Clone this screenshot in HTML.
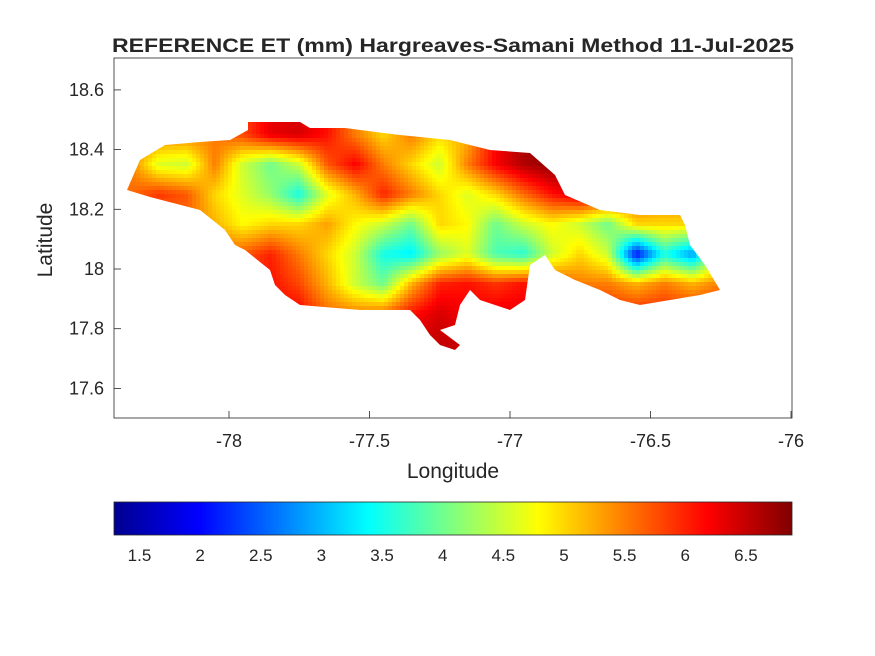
<!DOCTYPE html>
<html><head><meta charset="utf-8"><style>
html,body{margin:0;padding:0;background:#fff;width:875px;height:656px;overflow:hidden}
text{font-family:"Liberation Sans",Arial,sans-serif;fill:#262626}
</style></head><body>
<svg id="svg" width="875" height="656" xmlns="http://www.w3.org/2000/svg">
<defs>
<clipPath id="island"><path id="islandPath" d="M127,190 L140,160 L165,145 L200,142 L230,140 L248,130 L248,122 L300,122 L310,128 L345,128 L400,135 L450,140 L490,150 L530,153 L555,175 L565,195 L600,210 L640,215 L680,215 L685,225 L690,245 L705,265 L720,290 L700,295 L670,300 L640,305 L620,300 L600,290 L575,280 L555,270 L545,255 L530,265 L525,300 L510,310 L480,300 L470,290 L460,305 L455,325 L440,330 L460,345 L455,350 L440,345 L430,335 L420,320 L410,310 L360,310 L300,305 L285,295 L275,285 L270,270 L245,250 L235,245 L225,230 L200,210 L150,197 Z"/></clipPath>
<linearGradient id="jet" x1="0" x2="1" y1="0" y2="0">
<stop offset="0" stop-color="#00008f"/><stop offset="0.125" stop-color="#0000ff"/><stop offset="0.375" stop-color="#00ffff"/><stop offset="0.625" stop-color="#ffff00"/><stop offset="0.875" stop-color="#ff0000"/><stop offset="1" stop-color="#800000"/>
</linearGradient>
</defs>
<rect x="114" y="58" width="678" height="360" fill="#fff" stroke="#262626" stroke-width="0.8"/>
<g clip-path="url(#island)"><g id="cells" shape-rendering="crispEdges"></g></g>
<g id="axes"></g>
<text x="453" y="52" font-size="19" font-weight="bold" text-anchor="middle" textLength="682" lengthAdjust="spacingAndGlyphs">REFERENCE ET (mm) Hargreaves-Samani Method  11-Jul-2025</text>
<text x="453" y="478" font-size="21" text-anchor="middle">Longitude</text>
<text x="52" y="240" font-size="21" text-anchor="middle" transform="rotate(-90 52 240)">Latitude</text>
<rect x="114" y="502" width="678" height="33" fill="url(#jet)" stroke="#262626" stroke-width="0.8"/>
</svg>
<script>
const lons=[-78.35,-78.25,-78.15,-78.05,-77.95,-77.85,-77.75,-77.65,-77.55,-77.45,-77.35,-77.25,-77.15,-77.05,-76.95,-76.85,-76.75,-76.65,-76.55,-76.45,-76.35,-76.25];
const lats=[18.45,18.35,18.25,18.15,18.05,17.95,17.85,17.75];
const etValues=[
[5.5,5.5,5.5,5.5,5.8,6.3,6.4,6.1,5.5,5.0,5.5,5.0,5.2,6.2,6.7,6.8,6.7,6.5,6.3,6.0,6.0,6.0],
[5.5,4.6,4.5,5.5,4.5,4.0,4.5,5.7,6.2,5.5,5.0,4.5,5.5,6.2,6.6,6.8,6.7,6.5,6.2,6.0,6.0,6.0],
[5.6,5.9,5.7,5.0,4.6,4.2,3.5,4.6,5.2,6.0,5.5,5.0,4.6,5.0,5.6,6.1,6.4,6.2,5.8,5.5,5.5,5.5],
[5.5,5.5,5.6,5.2,4.8,5.0,5.0,5.3,4.8,4.5,4.0,5.0,4.8,4.0,4.5,4.8,4.5,4.0,5.0,5.0,5.0,5.5],
[5.5,5.5,5.5,5.6,5.7,6.0,5.5,5.0,4.5,3.5,3.3,4.2,4.6,3.8,3.6,4.5,5.0,4.5,2.0,3.5,2.8,4.5],
[6.0,6.0,6.0,6.0,6.0,6.1,5.8,5.2,4.5,4.0,5.2,6.0,6.1,5.9,6.1,5.8,5.5,5.5,5.2,5.5,5.2,5.5],
[6.0,6.0,6.0,6.0,6.0,6.2,6.2,5.6,5.5,5.6,6.1,6.4,6.2,6.3,6.3,6.0,6.0,6.0,6.0,6.0,6.0,6.0],
[6.5,6.5,6.5,6.5,6.5,6.5,6.5,6.5,6.5,6.5,6.5,6.5,6.5,6.5,6.5,6.5,6.5,6.5,6.5,6.5,6.5,6.5]];
const xTicks=[-78,-77.5,-77,-76.5,-76];
const yTicks=[17.6,17.8,18,18.2,18.4,18.6];
const cTicks=[1.5,2,2.5,3,3.5,4,4.5,5,5.5,6,6.5];
const cMin=1.29,cMax=6.88;
const NS='http://www.w3.org/2000/svg';
const X=lon=>229+(lon+78)*281;
const Y=lat=>269-(lat-18)*298.5;
const C=v=>114+(v-cMin)/(cMax-cMin)*678;
function jet(v){let t=(v-cMin)/(cMax-cMin);t=Math.max(0,Math.min(1,t));
 const f=x=>Math.max(0,Math.min(1,x));
 const r=f(Math.min(4*t-1.5,-4*t+4.5)),g=f(Math.min(4*t-0.5,-4*t+3.5)),b=f(Math.min(4*t+0.5,-4*t+2.5));
 return `rgb(${Math.round(r*255)},${Math.round(g*255)},${Math.round(b*255)})`;}
function interp(lo,la){
 let fj=(lo-lons[0])/(lons[1]-lons[0]);let fi=(lats[0]-la)/(lats[0]-lats[1]);
 fj=Math.max(0,Math.min(lons.length-1,fj));fi=Math.max(0,Math.min(lats.length-1,fi));
 const j0=Math.min(Math.floor(fj),lons.length-2),i0=Math.min(Math.floor(fi),lats.length-2);
 const tj=fj-j0,ti=fi-i0;
 const a=etValues[i0][j0],b=etValues[i0][j0+1],c=etValues[i0+1][j0],d=etValues[i0+1][j0+1];
 return (a*(1-tj)+b*tj)*(1-ti)+(c*(1-tj)+d*tj)*ti;}
const cells=document.getElementById('cells');
const step=4;
for(let py=118;py<354;py+=step){for(let px=124;px<724;px+=step){
 const lo=(px+step/2-229)/281-78, la=18-(py+step/2-269)/298.5;
 const r=document.createElementNS(NS,'rect');
 r.setAttribute('x',px);r.setAttribute('y',py);
 r.setAttribute('width',step);r.setAttribute('height',step);
 r.setAttribute('fill',jet(interp(lo,la)));
 
 
 cells.appendChild(r);}}
const ax=document.getElementById('axes');
function el(tag,attrs,txt){const e=document.createElementNS(NS,tag);for(const k in attrs)e.setAttribute(k,attrs[k]);if(txt!==undefined)e.textContent=txt;ax.appendChild(e);return e;}
xTicks.forEach(t=>{const x=X(t);
 el('line',{x1:x,x2:x,y1:418,y2:411,stroke:'#262626','stroke-width':0.8});
 const e=el('text',{x:x,y:447,'font-size':18,'text-anchor':'middle'},String(t));
 
 });
yTicks.forEach(t=>{const y=Y(t);
 el('line',{x1:114,x2:121,y1:y,y2:y,stroke:'#262626','stroke-width':0.8});
 const e=el('text',{x:104,y:y+6,'font-size':18,'text-anchor':'end'},String(t));
 
 });
cTicks.forEach(t=>{const x=C(t);
 el('line',{x1:x,x2:x,y1:535,y2:530,stroke:'#262626','stroke-width':0.8});
 const e=el('text',{x:x,y:561,'font-size':17,'text-anchor':'middle'},String(t));
 
 });
</script>
</body></html>
